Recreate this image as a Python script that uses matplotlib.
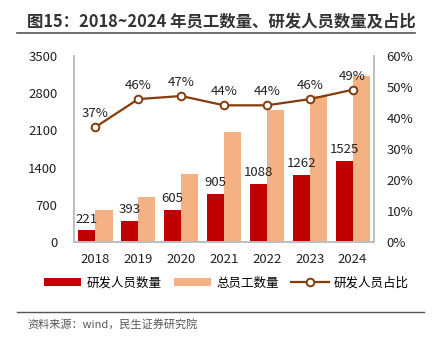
import matplotlib

matplotlib.use("Agg")
import matplotlib.pyplot as plt
import numpy as np
from matplotlib.lines import Line2D

plt.rcParams["font.family"] = ["Noto Sans CJK SC", "DejaVu Sans"]

years = ["2018", "2019", "2020", "2021", "2022", "2023", "2024"]
rd_staff = [221, 393, 605, 905, 1088, 1262, 1525]
total_staff = [597, 854, 1287, 2057, 2473, 2743, 3112]
rd_share = [37, 46, 47, 44, 44, 46, 49]

RED = "#C00000"
SALMON = "#F4B183"
BROWN = "#843C0C"
GRAY = "#BFBFBF"

fig = plt.figure(figsize=(4.35, 3.43), dpi=100)
ax = fig.add_axes([0.170, 0.294, 0.690, 0.544])
x = np.arange(len(years))
w = 0.4

ax.bar(x - w / 2, rd_staff, w, color=RED, label="研发人员数量")
ax.bar(x + w / 2, total_staff, w, color=SALMON, label="总员工数量")
for i, v in enumerate(rd_staff):
    ax.text(i - w / 2, v + 90, str(v), ha="center", va="bottom", fontsize=9.5, color="#222")

ax.set_xlim(-0.5, len(years) - 0.5)
ax.set_ylim(0, 3500)
ax.set_yticks(np.arange(0, 3501, 700))
ax.set_xticks(x)
ax.set_xticklabels(years)
ax.tick_params(length=0, labelsize=9.5, colors="#222")
ax.tick_params(axis="y", pad=12)
ax.tick_params(axis="x", pad=8)
ax.spines["top"].set_visible(False)
for s in ["left", "right", "bottom"]:
    ax.spines[s].set_color(GRAY)
    ax.spines[s].set_linewidth(1.2)

ax2 = ax.twinx()
ax2.plot(x, rd_share, color=BROWN, lw=1.6, marker="o", ms=5.5,
         mfc="white", mec=BROWN, mew=1.4, label="研发人员占比")
for i, v in enumerate(rd_share):
    ax2.text(i, v + 2.2, f"{v}%", ha="center", va="bottom", fontsize=9.5, color="#222")
ax2.set_ylim(0, 60)
ax2.set_yticks(np.arange(0, 61, 10))
ax2.set_yticklabels([f"{t}%" for t in range(0, 61, 10)])
ax2.tick_params(length=0, labelsize=9.5, colors="#222", pad=9)
ax2.spines["top"].set_visible(False)
for s in ["left", "right", "bottom"]:
    ax2.spines[s].set_color(GRAY)
    ax2.spines[s].set_linewidth(1.2)

h1, l1 = ax.get_legend_handles_labels()
h2, l2 = ax2.get_legend_handles_labels()
fig.legend(h1 + h2, l1 + l2, loc="center", bbox_to_anchor=(0.52, 0.175), ncol=3,
           frameon=False, fontsize=9, handlelength=3.0, handleheight=0.6,
           columnspacing=1.0, handletextpad=0.4)

fig.text(0.062, 0.936, "图15：2018~2024 年员工数量、研发人员数量及占比",
         fontsize=11.8, fontweight="bold", color="#333", va="center")
fig.add_artist(Line2D([0.04, 0.953], [0.903, 0.903], color="#555", lw=1.2))
fig.add_artist(Line2D([0.04, 0.975], [0.091, 0.091], color="#555", lw=1.0))
fig.text(0.062, 0.055, "资料来源：wind，民生证券研究院", fontsize=8, color="#555", va="center")

fig.savefig("out.png", dpi=100)
